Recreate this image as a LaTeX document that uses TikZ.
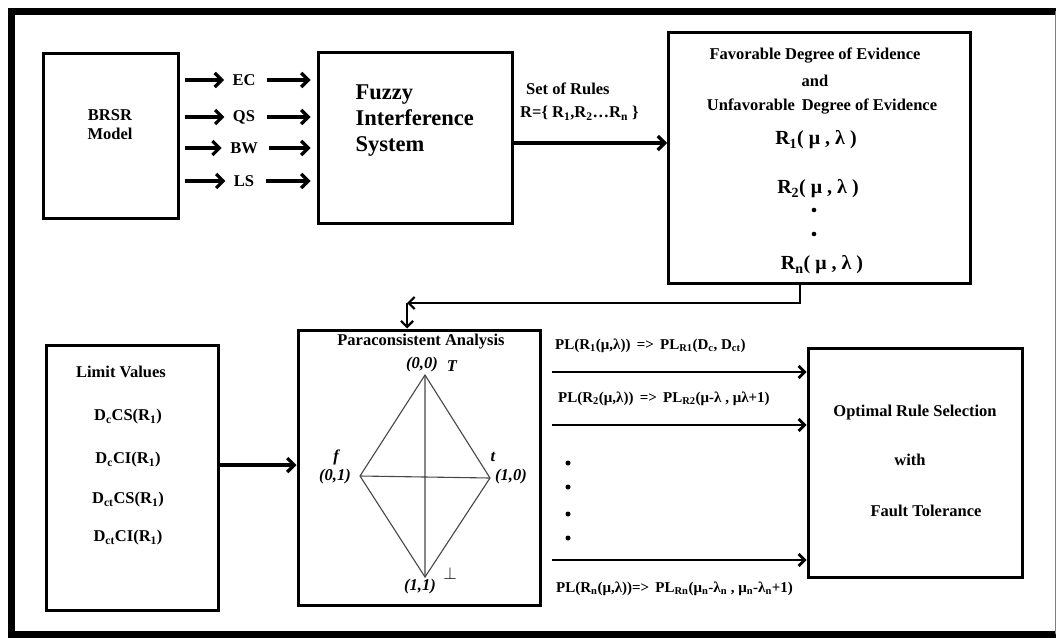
\documentclass[tikz,border=0pt]{standalone}
\usepackage{fontspec}
\setmainfont{Liberation Serif}
\usetikzlibrary{arrows.meta}
\definecolor{diamondgray}{RGB}{70,70,70}

\tikzset{
	blockbox/.style={draw, line width=3pt, inner sep=0pt},
	fatarrow/.style={line width=3.2pt, -{Straight Barb[length=7pt, width=14pt]}},
	ruleline/.style={line width=2.8pt, -{Straight Barb[length=6pt, width=12pt]}},
	backline/.style={line width=2.2pt, -{Straight Barb[length=6pt, width=12pt]}},
	corner/.style={font=\bfseries\itshape\fontsize{16.5}{18}\selectfont, inner sep=0pt},
	plnote/.style={font=\bfseries\fontsize{15}{17}\selectfont, anchor=west, inner sep=0pt},
}

\begin{document}
\begin{tikzpicture}[x=1pt, y=-1pt, font=\bfseries\fontsize{16.5}{19}\selectfont]

	\useasboundingbox (0,0) rectangle (1056,637);

	% Frame
	\draw[line width=7pt] (1056,11) -- (11,11) -- (11,634) -- (1056,634);
	\draw[gray, line width=1pt] (1055,11) -- (1055,634);

	% Top row
	\node[blockbox, minimum width=135pt, minimum height=165pt] (brsr) at (110.5,135.5) {};
	\node[align=center] (brsrtext) at (110,125) {BRSR\\Model};

	\node[blockbox, minimum width=194pt, minimum height=171pt] (fis) at (415,137.5) {};
	\node[align=left, anchor=west, font=\bfseries\fontsize{22.5}{26}\selectfont] (fistext) at (352,121) {Fuzzy\\Interference\\System};

	\node (ec) at (244,80) {EC};
	\node (qs) at (244,117) {QS};
	\node (bw) at (244,148) {BW};
	\node (ls) at (244,181) {LS};
	\foreach \s in {ec,qs,bw,ls} {
		\draw[fatarrow, shorten <=5pt, shorten >=5pt] (brsr.east |- \s) -- (\s.west);
		\draw[fatarrow, shorten <=8pt, shorten >=6pt] (\s.east) -- (fis.west |- \s);
	}

	\node[blockbox, minimum width=302pt, minimum height=251pt] (fav) at (819.5,157.5) {};
	\node (favtext) at (815,56) {Favorable Degree of Evidence};
	\node (andtext) at (815,81) {and};
	\node (unfavtext) at (822,107) {Unfavorable\, Degree of Evidence};
	\node[font=\bfseries\fontsize{20}{22}\selectfont] (rone) at (816,140) {R\textsubscript{1}( μ , λ )};
	\node[font=\bfseries\fontsize{20}{22}\selectfont] (rtwo) at (818,189) {R\textsubscript{2}( μ , λ )};
	\fill (814,210) circle (2.3pt) (814,234) circle (2.3pt);
	\node[font=\bfseries\fontsize{20}{22}\selectfont] (rn) at (822,265) {R\textsubscript{n}( μ , λ )};

	\coordinate (fisout) at (512,143);
	\draw[fatarrow] (fisout) -- (fav.west |- fisout);
	\node[anchor=west, inner sep=0pt] (settext) at (526,89) {Set of Rules};
	\node[anchor=west, inner sep=0pt] (rset) at (520,113) {R=\{ R\textsubscript{1},R\textsubscript{2}\ldots R\textsubscript{n} \}};

	% Bottom row
	\node[blockbox, minimum width=172pt, minimum height=265pt] (limit) at (132,477.5) {};
	\node (limtext) at (121,372) {Limit Values};
	\node (dccs) at (128,417) {D\textsubscript{c}CS(R\textsubscript{1})};
	\node (dcci) at (128,460) {D\textsubscript{c}CI(R\textsubscript{1})};
	\node (dctcs) at (128,500) {D\textsubscript{ct}CS(R\textsubscript{1})};
	\node (dctci) at (128,538) {D\textsubscript{ct}CI(R\textsubscript{1})};

	\node[blockbox, minimum width=242pt, minimum height=275pt] (para) at (419,467.5) {};
	\node (paratext) at (421,342) {Paraconsistent Analysis};
	\draw[fatarrow] (limit.east |- 0,465) -- (para.west |- 0,465);

	% Bilattice
	\coordinate (dtop) at (425,375);
	\coordinate (dleft) at (360,476);
	\coordinate (dright) at (490,478);
	\coordinate (dbot) at (425,577);
	\draw[diamondgray, line width=1.1pt] (dtop) -- (dright) -- (dbot) -- (dleft) -- cycle;
	\draw[diamondgray, line width=1.1pt] (dtop) -- (dbot) (dleft) -- (dright);
	\node[corner] (czero) at (422,365) {(0,0)};
	\node[corner] (ctop) at (452,366) {T};
	\node[corner] (cleft) at (335,477) {(0,1)};
	\node[corner] (cf) at (336,457) {f};
	\node[corner] (cright) at (511,477) {(1,0)};
	\node[corner] (ct) at (493,457) {t};
	\node[corner] (cbot) at (420,587) {(1,1)};
	\node[font=\fontsize{16}{18}\selectfont, inner sep=0pt] (cbottom) at (450,573) {$\perp$};

	% Feedback
	\coordinate (fbturn) at (800,303);
	\coordinate (fbend) at (407,303);
	\draw[backline] (fav.south -| fbturn) -- (fbturn) -- (fbend);
	\draw[backline] (fbend) -- (para.north -| fbend);

	% Rule outputs
	\node[blockbox, minimum width=214pt, minimum height=229pt] (opt) at (915,462.5) {};
	\node (opttext) at (915,413) {Optimal Rule Selection};
	\node (withtext) at (910,460) {with};
	\node (fttext) at (926,511) {Fault Tolerance};

	\foreach \y in {372,425,560}
		\draw[ruleline, shorten <=10pt] (para.east |- 0,\y) -- (opt.west |- 0,\y);

	\node[plnote] (plone) at (555,346) {PL(R\textsubscript{1}(μ,λ))\, => \,PL\textsubscript{R1}(D\textsubscript{c}, D\textsubscript{ct})};
	\node[plnote] (pltwo) at (558,399) {PL(R\textsubscript{2}(μ,λ))\, => \,PL\textsubscript{R2}(μ-λ , μλ+1)};
	\node[plnote] (pln) at (556,589) {PL(R\textsubscript{n}(μ,λ))=> \,PL\textsubscript{Rn}(μ\textsubscript{n}-λ\textsubscript{n} , μ\textsubscript{n}-λ\textsubscript{n}+1)};
	\foreach \y in {463,487,514,538}
		\fill (568,\y) circle (2.5pt);

\end{tikzpicture}
\end{document}
